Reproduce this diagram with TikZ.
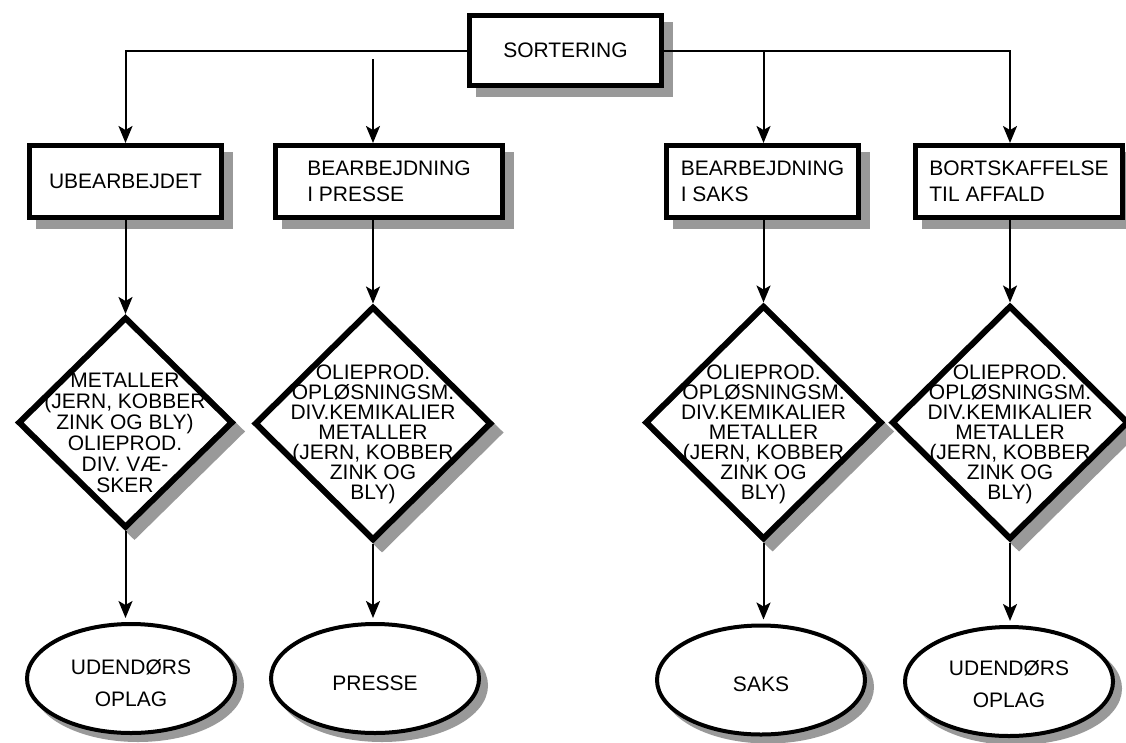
\documentclass[tikz,border=0pt]{standalone}
\usepackage{fontspec}
\setmainfont{Liberation Sans}
\usetikzlibrary{shapes.geometric,shadows,arrows.meta}
\definecolor{shadowgray}{RGB}{153,153,153}
\lineskiplimit=-20pt
\begin{document}
\begin{tikzpicture}[x=1pt,y=-1pt,
 shad/.style={drop shadow={shadow xshift=#1, shadow yshift=-#1, fill=shadowgray, draw=shadowgray, opacity=1}},
 box/.style={draw, line width=5pt, fill=white, rectangle, inner sep=0pt, align=left,
   font=\fontsize{21pt}{26pt}\selectfont, shad=9pt},
 dia/.style={draw, line width=6pt, fill=white, diamond, inner sep=0pt, shad=9pt},
 ell/.style={draw, line width=4pt, fill=white, ellipse, inner sep=0pt, shad=7pt},
 dtexta/.style={align=center, inner sep=0pt, font=\fontsize{21pt}{21pt}\selectfont},
 dtextb/.style={align=center, inner sep=0pt, font=\fontsize{21pt}{20pt}\selectfont},
 etext/.style={align=center, inner sep=0pt, font=\fontsize{21pt}{32pt}\selectfont},
 arr/.style={line width=2pt, -{Stealth[length=17pt,width=14pt,inset=4pt]}},
]
\useasboundingbox (0,0) rectangle (1126,742);

% top box
\node[box, minimum width=192pt, minimum height=70pt] (sort) at (565.5,50.5) {SORTERING};

% second row boxes
\node[box, minimum width=192pt, minimum height=72pt] (ub) at (125.5,181.5) {UBEARBEJDET};
\node[box, minimum width=227pt, minimum height=72pt] (pr) at (389,181.5) {BEARBEJDNING\\I PRESSE};
\node[box, minimum width=192pt, minimum height=72pt] (sa) at (762.5,181.5) {BEARBEJDNING\\I SAKS};
\node[box, minimum width=207pt, minimum height=72pt] (bo) at (1019,181.5) {BORTSKAFFELSE\\TIL AFFALD};

% diamonds
\node[dia, minimum width=215pt, minimum height=211pt] (d1) at (125.5,422.5) {};
\node[dia, minimum width=237pt, minimum height=234pt] (d2) at (373,423.5) {};
\node[dia, minimum width=237pt, minimum height=234pt] (d3) at (763.5,422.5) {};
\node[dia, minimum width=237pt, minimum height=234pt] (d4) at (1010,422.5) {};

\node[dtexta] (t1) at (125,432.5) {METALLER\\(JERN, KOBBER\\ZINK OG BLY)\\OLIEPROD.\\DIV. VÆ-\\SKER};
\node[dtextb] (t2) at (373,434) {OLIEPROD.\\OPLØSNINGSM.\\DIV.KEMIKALIER\\METALLER\\(JERN, KOBBER\\ZINK OG\\BLY)};
\node[dtextb] (t3) at (763.5,434) {OLIEPROD.\\OPLØSNINGSM.\\DIV.KEMIKALIER\\METALLER\\(JERN, KOBBER\\ZINK OG\\BLY)};
\node[dtextb] (t4) at (1010,434) {OLIEPROD.\\OPLØSNINGSM.\\DIV.KEMIKALIER\\METALLER\\(JERN, KOBBER\\ZINK OG\\BLY)};

% ellipses
\node[ell, minimum width=208pt, minimum height=109pt] (e1) at (131,678.5) {};
\node[ell, minimum width=208pt, minimum height=109pt] (e2) at (375,678.5) {};
\node[ell, minimum width=208pt, minimum height=109pt] (e3) at (761,680) {};
\node[ell, minimum width=208pt, minimum height=109pt] (e4) at (1009,681.5) {};

\node[etext] (l1) at ([yshift=-5pt]e1.center) {UDENDØRS\\OPLAG};
\node[etext] (l2) at ([yshift=-5pt]e2.center) {PRESSE};
\node[etext] (l3) at ([yshift=-4pt]e3.center) {SAKS};
\node[etext] (l4) at ([yshift=-3pt]e4.center) {UDENDØRS\\OPLAG};

% connectors from the top box
\coordinate (c2) at (373,59);
\draw[arr] (sort.west) -| (ub.north);
\draw[arr] (c2) -- (c2 |- pr.north);
\draw[arr] (sort.east) -| ([xshift=-9pt]bo.north);
\draw[arr] (sort.east -| d3.north) -- (sa.north -| d3.north);

% boxes to diamonds
\draw[arr] (ub.south) -- (d1.north);
\draw[arr] (pr.south -| d2.north) -- (d2.north);
\draw[arr] (sa.south -| d3.north) -- (d3.north);
\draw[arr] (bo.south -| d4.north) -- (d4.north);

% diamonds to ellipses
\draw[arr] (d1.south) -- ([yshift=4pt]d1.south |- e1.north);
\draw[arr] (d2.south) -- ([yshift=4pt]d2.south |- e2.north);
\draw[arr] (d3.south) -- ([yshift=4pt]d3.south |- e3.north);
\draw[arr] (d4.south) -- ([yshift=4pt]d4.south |- e4.north);
\end{tikzpicture}
\end{document}
